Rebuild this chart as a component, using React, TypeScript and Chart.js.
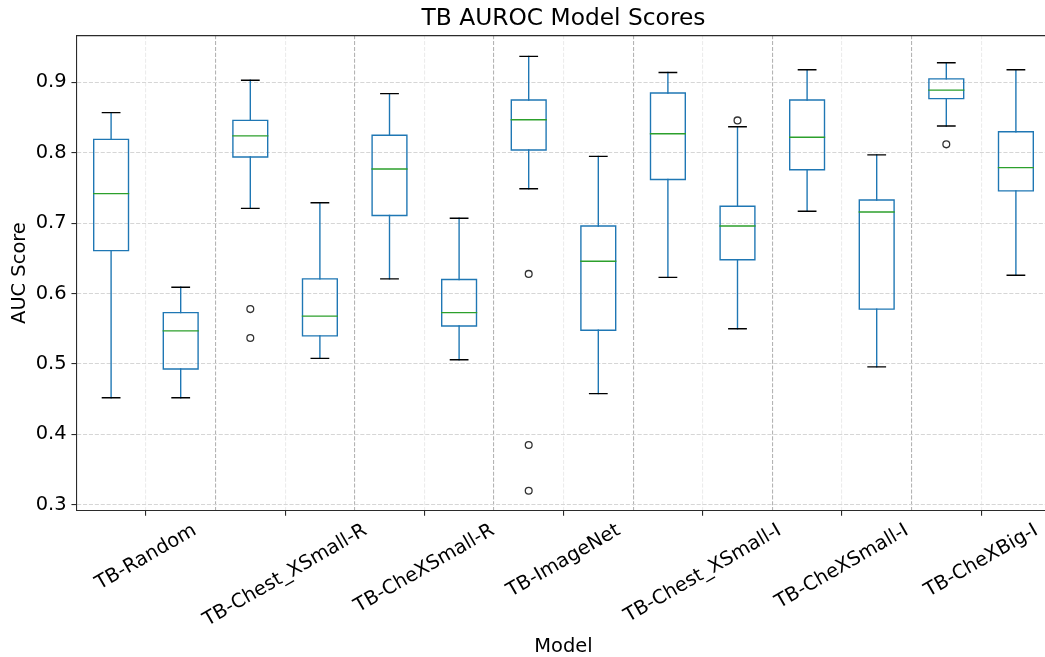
import React, { useEffect, useRef } from 'react';
import { Chart, registerables } from 'chart.js';

Chart.register(...registerables);

// Labels shown under the x axis (one per pair of boxes)
const tickLabels = [
  'TB-Random',
  'TB-Chest_XSmall-R',
  'TB-CheXSmall-R',
  'TB-ImageNet',
  'TB-Chest_XSmall-I',
  'TB-CheXSmall-I',
  'TB-CheXBig-I',
];

// Five-number summaries of the 14 AUC distributions, left to right
const whiskerLow = [0.452, 0.452, 0.721, 0.508, 0.621, 0.506, 0.749, 0.458, 0.623, 0.550, 0.717, 0.496, 0.838, 0.626];
const quartile1 = [0.661, 0.493, 0.794, 0.540, 0.711, 0.554, 0.804, 0.548, 0.762, 0.648, 0.776, 0.578, 0.877, 0.746];
const medians = [0.742, 0.547, 0.824, 0.568, 0.777, 0.573, 0.847, 0.646, 0.827, 0.696, 0.822, 0.716, 0.889, 0.779];
const quartile3 = [0.819, 0.573, 0.846, 0.621, 0.825, 0.620, 0.875, 0.696, 0.885, 0.724, 0.875, 0.733, 0.905, 0.830];
const whiskerHigh = [0.857, 0.609, 0.903, 0.729, 0.884, 0.707, 0.937, 0.795, 0.914, 0.837, 0.918, 0.797, 0.928, 0.918];
const outliers = [[], [], [0.578, 0.537], [], [], [], [0.628, 0.385, 0.320], [], [], [0.846], [], [], [0.812], []];

const yTicks = [0.3, 0.4, 0.5, 0.6, 0.7, 0.8, 0.9];

// Styling
const FONT = '"DejaVu Sans", sans-serif';
const TICK_SIZE = 19.44;
const LABEL_SIZE = 19.44;
const TITLE_SIZE = 23.33;
const TICK_LEN = 4.86;
const TICK_PAD = 4.86;
const LINE_W = 1.39;
const SPINE = '#2b2b2b';
const BOX_BLUE = '#1f77b4';
const MEDIAN_GREEN = '#2ca02c';
const BOX_HALF = 0.25;
const CAP_HALF = 0.125;

const positions = medians.map((_, i) => i + 1);
const gap = (x: number) => ({ x, y: null as any });

const boxPoints = positions.flatMap((p, i) => [
  { x: p - BOX_HALF, y: quartile1[i] },
  { x: p + BOX_HALF, y: quartile1[i] },
  { x: p + BOX_HALF, y: quartile3[i] },
  { x: p - BOX_HALF, y: quartile3[i] },
  { x: p - BOX_HALF, y: quartile1[i] },
  gap(p),
]);

const whiskerPoints = positions.flatMap((p, i) => [
  { x: p, y: whiskerLow[i] },
  { x: p, y: quartile1[i] },
  gap(p),
  { x: p, y: quartile3[i] },
  { x: p, y: whiskerHigh[i] },
  gap(p),
]);

const capPoints = positions.flatMap((p, i) => [
  { x: p - CAP_HALF, y: whiskerLow[i] },
  { x: p + CAP_HALF, y: whiskerLow[i] },
  gap(p),
  { x: p - CAP_HALF, y: whiskerHigh[i] },
  { x: p + CAP_HALF, y: whiskerHigh[i] },
  gap(p),
]);

const medianPoints = positions.flatMap((p, i) => [
  { x: p - BOX_HALF, y: medians[i] },
  { x: p + BOX_HALF, y: medians[i] },
  gap(p),
]);

const flierPoints = positions.flatMap((p, i) => outliers[i].map((v) => ({ x: p, y: v })));

// Grid boundaries between neighbouring boxes; every other one carries a label
const xGridValues = positions.slice(0, -1).map((p) => p + 0.5);
const isLabelled = (v: number) => Math.abs(((v - 1.5) / 2) - Math.round((v - 1.5) / 2)) < 1e-6;

const lineSet = (data: any[], color: string) => ({
  data,
  showLine: true,
  spanGaps: false,
  borderColor: color,
  borderWidth: LINE_W,
  borderCapStyle: 'square',
  borderJoinStyle: 'miter',
  pointRadius: 0,
  pointHoverRadius: 0,
  fill: false,
  tension: 0,
});

// Rotated category labels, centred on their ticks
const rotatedLabels = {
  id: 'rotatedLabels',
  afterDraw(chart: any) {
    const xs = chart.scales.x;
    const ctx = chart.ctx;
    const ang = Math.PI / 6;
    const asc = 0.76 * TICK_SIZE;
    const desc = 0.21 * TICK_SIZE;
    const top = xs.top + TICK_LEN + TICK_PAD;
    ctx.save();
    ctx.font = `${TICK_SIZE}px ${FONT}`;
    ctx.fillStyle = '#000';
    ctx.textAlign = 'center';
    ctx.textBaseline = 'alphabetic';
    tickLabels.forEach((label, k) => {
      const x = xs.getPixelForValue(1.5 + 2 * k);
      const w = ctx.measureText(label).width;
      const bh = w * Math.sin(ang) + (asc + desc) * Math.cos(ang);
      ctx.save();
      ctx.translate(x, top + bh / 2);
      ctx.rotate(-ang);
      ctx.fillText(label, 0, (asc - desc) / 2);
      ctx.restore();
    });
    ctx.restore();
  },
};

// Top and right edges of the plot frame
const frame = {
  id: 'frame',
  afterDraw(chart: any) {
    const { ctx, chartArea } = chart;
    ctx.save();
    ctx.strokeStyle = SPINE;
    ctx.lineWidth = 1.1;
    ctx.beginPath();
    ctx.moveTo(chartArea.left, chartArea.top + 0.5);
    ctx.lineTo(chartArea.right, chartArea.top + 0.5);
    ctx.lineTo(chartArea.right, chartArea.bottom);
    ctx.stroke();
    ctx.restore();
  },
};

export default function App() {
  const canvasRef = useRef<HTMLCanvasElement | null>(null);

  useEffect(() => {
    if (!canvasRef.current) return;
    Chart.defaults.font.family = FONT;
    const chart = new Chart(canvasRef.current, {
      type: 'scatter',
      data: {
        datasets: [
          {
            data: flierPoints,
            pointStyle: 'circle',
            pointRadius: 3.4,
            pointBorderWidth: 1.3,
            pointBorderColor: '#333',
            pointBackgroundColor: 'rgba(0,0,0,0)',
            showLine: false,
          },
          lineSet(medianPoints, MEDIAN_GREEN),
          lineSet(capPoints, '#000'),
          lineSet(whiskerPoints, BOX_BLUE),
          lineSet(boxPoints, BOX_BLUE),
        ] as any,
      },
      options: {
        animation: false,
        responsive: false,
        events: [],
        layout: { padding: 0 },
        plugins: {
          legend: { display: false },
          tooltip: { enabled: false },
          title: {
            display: true,
            text: 'TB AUROC Model Scores',
            fullSize: false,
            color: '#000',
            font: { family: FONT, size: TITLE_SIZE, weight: 'normal', lineHeight: 1.2 },
            padding: { top: 4.5, bottom: 2.6 },
          },
        },
        scales: {
          x: {
            type: 'linear',
            min: 0.5,
            max: 14.5,
            bounds: 'data',
            afterBuildTicks: (s: any) => {
              s.ticks = xGridValues.map((v) => ({ value: v }));
            },
            afterFit: (s: any) => {
              s.height = 146;
            },
            ticks: { display: false },
            grid: {
              color: (c: any) => (c.tick && isLabelled(c.tick.value) ? '#ececec' : '#b4b4b4'),
              lineWidth: 1.1,
              drawTicks: true,
              tickLength: TICK_LEN,
              tickWidth: 1.1,
              tickColor: (c: any) => (c.tick && isLabelled(c.tick.value) ? SPINE : 'rgba(0,0,0,0)'),
            },
            border: { display: true, color: SPINE, width: 1.1, dash: [4.1, 1.8] },
            title: {
              display: true,
              text: 'Model',
              color: '#000',
              font: { family: FONT, size: LABEL_SIZE, lineHeight: 1 },
              padding: { top: 0, bottom: 0.7 },
            },
          },
          y: {
            type: 'linear',
            min: 0.2912,
            max: 0.9672,
            bounds: 'data',
            afterBuildTicks: (s: any) => {
              s.ticks = yTicks.map((v) => ({ value: v }));
            },
            afterFit: (s: any) => {
              s.width = 76.3;
            },
            ticks: {
              color: '#000',
              font: { family: FONT, size: TICK_SIZE },
              padding: TICK_PAD,
              callback: (v: any) => Number(v).toFixed(1),
            },
            grid: {
              color: '#d6d6d6',
              lineWidth: 1.1,
              drawTicks: true,
              tickLength: TICK_LEN,
              tickWidth: 1.1,
              tickColor: SPINE,
            },
            border: { display: true, color: SPINE, width: 1.1, dash: [4.1, 1.8] },
            title: {
              display: true,
              text: 'AUC Score',
              color: '#000',
              font: { family: FONT, size: LABEL_SIZE, lineHeight: 1.2 },
              padding: { top: 7.9, bottom: 0 },
            },
          },
        },
      } as any,
      plugins: [rotatedLabels, frame],
    });
    return () => chart.destroy();
  }, []);

  return (
    <div
      style={{
        position: 'absolute',
        left: 0,
        top: 0,
        width: 1045,
        height: 657,
        overflow: 'hidden',
        background: '#fff',
      }}
    >
      <canvas ref={canvasRef} width={1056} height={657} style={{ display: 'block' }} />
    </div>
  );
}
